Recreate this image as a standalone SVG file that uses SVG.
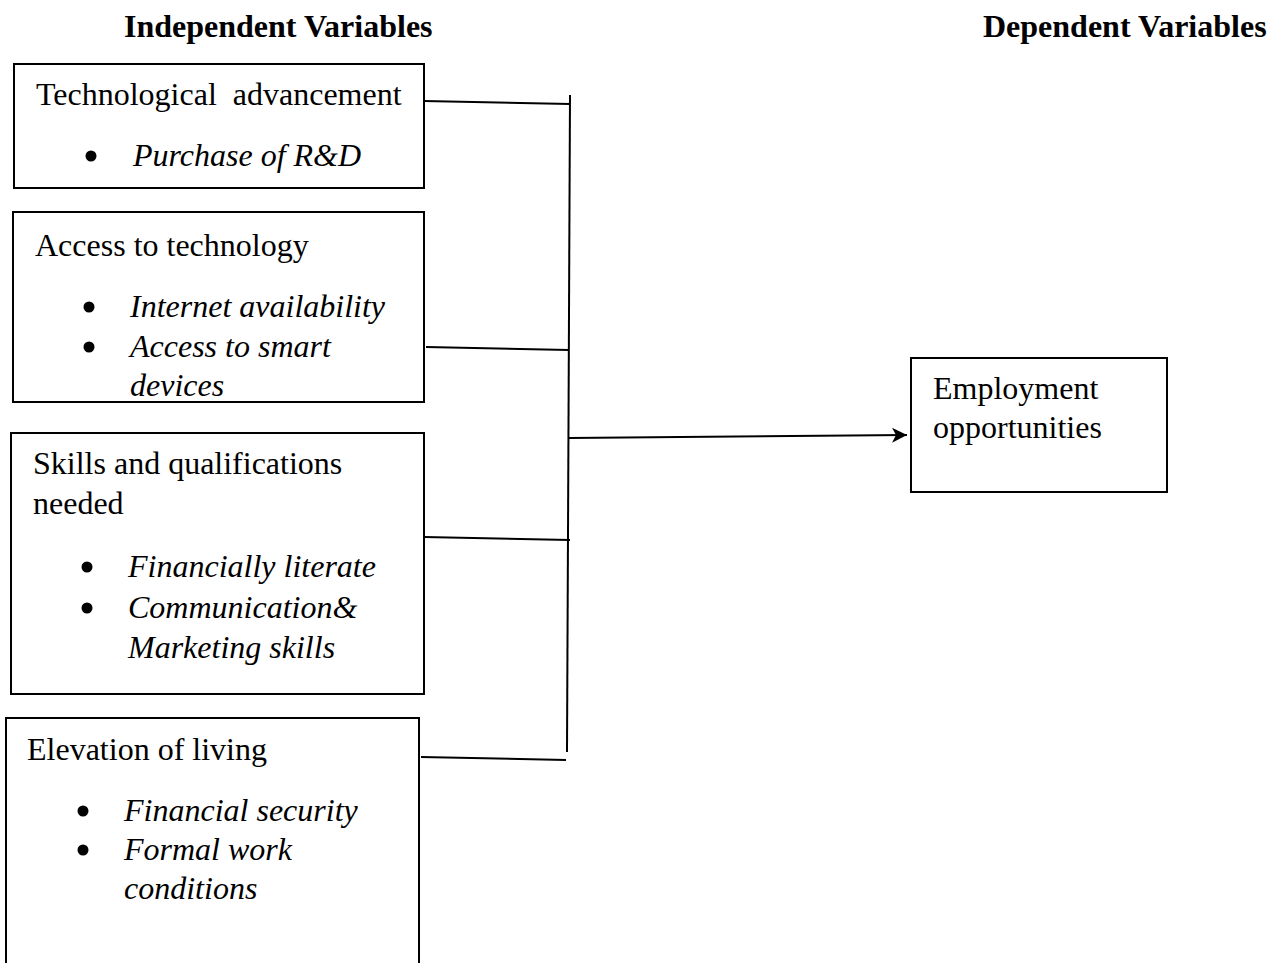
<svg xmlns="http://www.w3.org/2000/svg" width="1277" height="963" viewBox="0 0 1277 963">
<style>
  .box { fill: #fff; stroke: #000; stroke-width: 2; }
  .t { font-family: "Liberation Serif", "Times New Roman", serif; font-size: 32px; fill: #000; }
  .i { font-style: italic; }
  .h { font-weight: bold; }
  .c { stroke: #000; stroke-width: 2; fill: none; }
  .b { fill: #000; }
</style>
<defs>
  <marker id="arr" markerWidth="16" markerHeight="16" refX="15" refY="8" orient="auto" markerUnits="userSpaceOnUse">
    <path d="M0,0.5 L15,8 L0,15.5 L4,8 Z" fill="#000"/>
  </marker>
  <clipPath id="clip2"><rect x="14" y="213" width="409" height="188"/></clipPath>
</defs>
<rect width="1277" height="963" fill="#fff"/>
<g id="headers">
  <text class="t h" x="124" y="37">Independent Variables</text>
  <text class="t h" x="983" y="37">Dependent Variables</text>
</g>
<g id="node-tech">
  <rect class="box" x="14" y="64" width="410" height="124"/>
  <text class="t" x="36" y="105" xml:space="preserve">Technological  advancement</text>
  <circle class="b" cx="91" cy="156" r="5.5"/>
  <text class="t i" x="133" y="166">Purchase of R&amp;D</text>
</g>
<g id="node-access">
  <rect class="box" x="13" y="212" width="411" height="190"/>
  <g clip-path="url(#clip2)">
    <text class="t" x="35" y="256">Access to technology</text>
    <circle class="b" cx="89" cy="307" r="5.5"/>
    <text class="t i" x="130" y="317">Internet availability</text>
    <circle class="b" cx="89" cy="347" r="5.5"/>
    <text class="t i" x="130" y="357">Access to smart</text>
    <text class="t i" x="130" y="396">devices</text>
  </g>
</g>
<g id="node-skills">
  <rect class="box" x="11" y="433" width="413" height="261"/>
  <text class="t" x="33" y="474">Skills and qualifications</text>
  <text class="t" x="33" y="514">needed</text>
  <circle class="b" cx="87" cy="567" r="5.5"/>
  <text class="t i" x="128" y="577">Financially literate</text>
  <circle class="b" cx="87" cy="608" r="5.5"/>
  <text class="t i" x="128" y="618">Communication&amp;</text>
  <text class="t i" x="128" y="658">Marketing skills</text>
</g>
<g id="node-elevation">
  <rect class="box" x="6" y="718" width="413" height="260"/>
  <text class="t" x="27" y="760">Elevation of living</text>
  <circle class="b" cx="83" cy="811" r="5.5"/>
  <text class="t i" x="124" y="821">Financial security</text>
  <circle class="b" cx="83" cy="850" r="5.5"/>
  <text class="t i" x="124" y="860">Formal work</text>
  <text class="t i" x="124" y="899">conditions</text>
</g>
<g id="node-employment">
  <rect class="box" x="911" y="358" width="256" height="134"/>
  <text class="t" x="933" y="399">Employment</text>
  <text class="t" x="933" y="438">opportunities</text>
</g>
<g id="connectors">
  <line class="c" x1="570" y1="95" x2="567" y2="752"/>
  <line class="c" x1="424" y1="101" x2="570" y2="104"/>
  <line class="c" x1="426" y1="347" x2="569" y2="350"/>
  <line class="c" x1="424" y1="537" x2="570" y2="540"/>
  <line class="c" x1="421" y1="757" x2="566" y2="760"/>
  <line class="c" x1="569" y1="438" x2="907" y2="435" marker-end="url(#arr)"/>
</g>
</svg>
